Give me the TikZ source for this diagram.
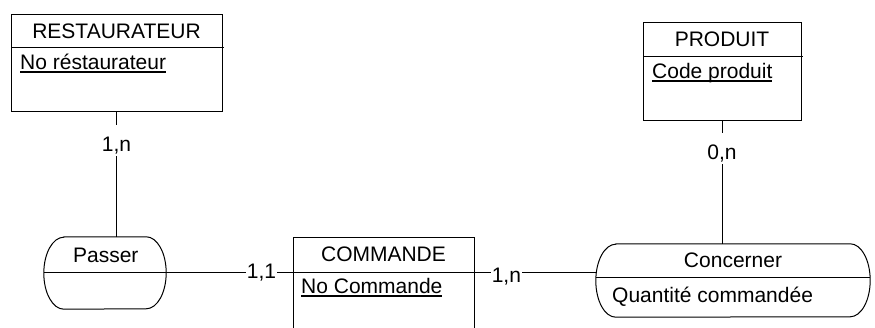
\documentclass[tikz,border=0pt]{standalone}
\usepackage{fontspec}
\setmainfont{Liberation Sans}
\newcommand\ulbl[1]{\setbox0=\hbox{#1}\rlap{\rule[-3.5pt]{\wd0}{2pt}}\box0}
\tikzset{
  ln/.style={draw=black, line width=1pt},
  entbox/.style={ln, rectangle, inner sep=0pt},
  relbox/.style={rectangle, inner sep=0pt},
  txt/.style={inner sep=0pt, font=\fontsize{21}{25}\selectfont},
  vlbl/.style={fill=white, inner ysep=0pt, inner xsep=1pt, text height=26pt, text depth=5pt, font=\fontsize{21}{25}\selectfont},
  hlbl/.style={fill=white, inner ysep=0pt, inner xsep=1pt, text height=15pt, text depth=4pt, font=\fontsize{21}{25}\selectfont},
}
\begin{document}
\begin{tikzpicture}[x=1pt,y=1pt]
\clip (0,0) rectangle (875,328);
\fill[white] (0,0) rectangle (875,328);
% entities
\node[entbox, minimum width=211pt, minimum height=97pt] (rest) at (116.5,264.5) {};
\node[entbox, minimum width=158pt, minimum height=98pt] (prod) at (722,256) {};
\node[entbox, minimum width=181pt, minimum height=110pt] (cmd) at (383.5,35) {};
% relations (invisible frames)
\node[relbox, minimum width=122pt, minimum height=72pt] (passer) at (105,55) {};
\node[relbox, minimum width=274pt, minimum height=73pt] (conc) at (733,47.5) {};
\draw[ln] ([xshift=20pt]passer.north west) -- ([xshift=-20pt]passer.north east)
  arc[start angle=90, end angle=-90, x radius=20, y radius=36]
  -- ([xshift=20pt]passer.south west)
  arc[start angle=270, end angle=90, x radius=20, y radius=36] -- cycle;
\draw[ln] ([xshift=20pt]conc.north west) -- ([xshift=-20pt]conc.north east)
  arc[start angle=90, end angle=-90, x radius=20, y radius=36.5]
  -- ([xshift=20pt]conc.south west)
  arc[start angle=270, end angle=90, x radius=20, y radius=36.5] -- cycle;
% separators
\coordinate (restHL) at (11,280);
\coordinate (restHR) at (224,280);
\draw[ln] (restHL) -- (restHR);
\coordinate (prodHL) at (643,271);
\coordinate (prodHR) at (803,271);
\draw[ln] (prodHL) -- (prodHR);
\coordinate (cmdHL) at (293,55);
\coordinate (cmdHR) at (474,55);
\draw[ln] (cmdHL) -- (cmdHR);
\draw[ln] (passer.west) -- (passer.east);
\coordinate (concL) at (596,50);
\coordinate (concR) at (870,50);
\draw[ln] (concL) -- (concR);
% texts
\node[txt, anchor=base] (restT) at (116.5,289.7) {RESTAURATEUR};
\node[txt, anchor=base west] (restK) at (20,258) {\ulbl{No réstaurateur}};
\node[txt, anchor=base] (prodT) at (722,281.3) {PRODUIT};
\node[txt, anchor=base west] (prodK) at (652,249.7) {\ulbl{Code produit}};
\node[txt, anchor=base] (cmdT) at (383.5,66.3) {COMMANDE};
\node[txt, anchor=base west] (cmdK) at (301,34.7) {\ulbl{No Commande}};
\node[txt, anchor=base] (passerT) at (105.8,65.3) {Passer};
\node[txt, anchor=base] (concT) at (733,60.3) {Concerner};
\node[txt, anchor=base west] (concA) at (612,25.7) {Quantité commandée};
% connectors
\draw[ln] (rest.south) -- (rest.south |- passer.north) node[vlbl, pos=0.226] (l1) {1,n};
\draw[ln] (prod.south) -- (prod.south |- conc.north) node[vlbl, pos=0.224] (l2) {0,n};
\draw[ln] (passer.east) -- (cmdHL) node[hlbl, pos=0.752] (l3) {1,1};
\draw[ln] (cmdHR) -- (cmdHR -| conc.west) node[hlbl, pos=0.266, yshift=-4.5pt] (l4) {1,n};
\end{tikzpicture}
\end{document}
